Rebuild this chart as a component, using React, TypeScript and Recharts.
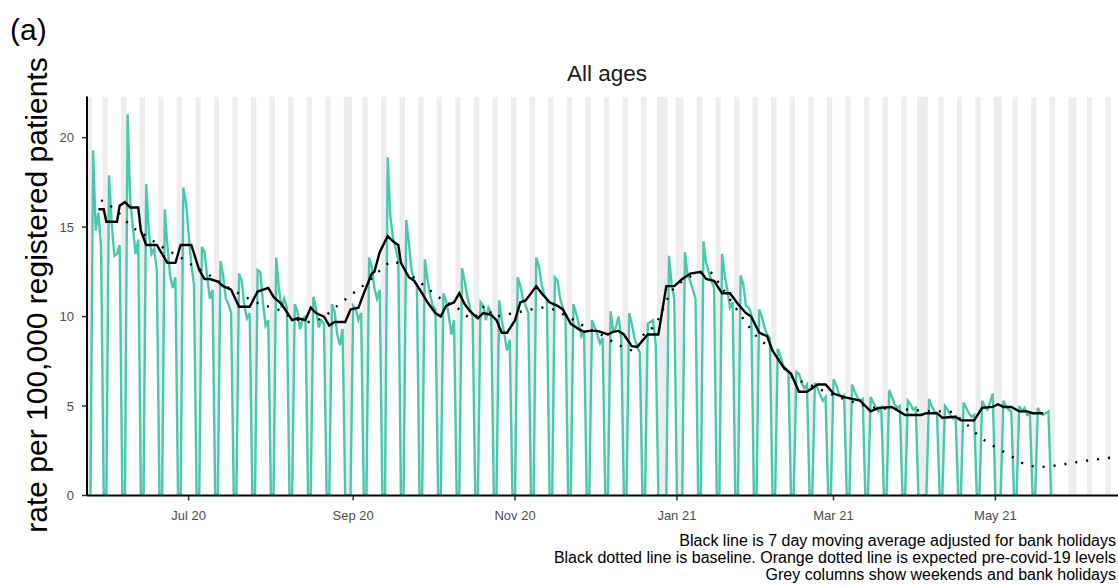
import { ComposedChart, Line, XAxis, YAxis, ReferenceArea } from "recharts"

// day 0 of the x axis
const originDate = "2020-07-01"
const seriesStart = "2020-05-25"

// daily rate per 100,000, one row per week (Mon..Sun), weekends and bank holidays at 0
const dailyRate = [
  [0, 19.3, 14.8, 15.8, 13.9, 0, 0],
  [17.9, 15.2, 13.4, 13.5, 14.0, 0, 0],
  [21.3, 16.5, 15.0, 13.5, 14.3, 0, 0],
  [17.4, 14.7, 13.5, 13.8, 12.6, 0, 0],
  [16.0, 14.0, 12.3, 11.6, 12.2, 0, 0],
  [17.2, 16.4, 14.6, 12.9, 11.8, 0, 0],
  [13.9, 13.6, 12.2, 11.0, 11.5, 0, 0],
  [13.1, 12.3, 11.0, 10.7, 10.2, 0, 0],
  [12.4, 12.0, 10.6, 9.9, 10.2, 0, 0],
  [12.6, 12.5, 10.8, 9.5, 9.8, 0, 0],
  [13.3, 11.6, 10.5, 11.0, 10.5, 0, 0],
  [10.7, 10.3, 9.3, 9.9, 10.0, 0, 0],
  [11.1, 10.5, 9.4, 9.8, 9.6, 0, 0],
  [10.7, 10.3, 9.0, 8.4, 9.3, 0, 0],
  [0, 10.6, 10.4, 9.8, 10.2, 0, 0],
  [13.3, 12.8, 11.6, 11.0, 11.5, 0, 0],
  [18.9, 15.6, 14.4, 13.8, 13.2, 0, 0],
  [15.4, 14.1, 12.6, 12.0, 11.8, 0, 0],
  [13.2, 12.1, 11.2, 10.6, 10.4, 0, 0],
  [11.3, 10.9, 10.1, 9.0, 9.8, 0, 0],
  [12.7, 12.0, 11.1, 10.5, 10.0, 0, 0],
  [10.8, 10.6, 9.8, 10.5, 10.2, 0, 0],
  [10.9, 9.8, 9.0, 8.1, 8.7, 0, 0],
  [12.2, 11.7, 11.0, 10.6, 10.2, 0, 0],
  [13.3, 12.8, 11.8, 11.2, 11.0, 0, 0],
  [12.2, 12.0, 11.0, 10.5, 10.0, 0, 0],
  [10.7, 10.2, 9.6, 8.9, 9.2, 0, 0],
  [9.8, 9.4, 9.0, 8.5, 8.8, 0, 0],
  [10.3, 9.2, 9.4, 10.0, 8.8, 0, 0],
  [10.2, 9.6, 8.8, 8.3, 8.0, 0, 0],
  [9.6, 9.7, 9.8, 8.5, 0, 0, 0],
  [0, 13.4, 11.8, 11.0, 0, 0, 0],
  [13.6, 12.3, 12.0, 11.5, 11.0, 0, 0],
  [14.2, 13.0, 12.5, 12.0, 11.6, 0, 0],
  [13.5, 12.3, 11.5, 10.5, 10.8, 0, 0],
  [12.3, 11.8, 10.6, 10.5, 10.2, 0, 0],
  [10.4, 10.0, 9.4, 9.0, 8.8, 0, 0],
  [8.2, 7.8, 7.3, 7.0, 6.9, 0, 0],
  [6.9, 6.8, 6.3, 6.0, 6.2, 0, 0],
  [6.3, 6.0, 5.6, 5.3, 5.5, 0, 0],
  [6.5, 6.2, 5.7, 5.5, 5.6, 0, 0],
  [6.2, 5.8, 5.5, 5.3, 5.4, 0, 0],
  [5.5, 5.2, 4.9, 4.7, 4.9, 0, 0],
  [5.9, 5.5, 5.1, 4.9, 5.0, 0, 0],
  [5.3, 5.1, 4.8, 4.9, 0, 0, 0],
  [0, 5.4, 5.0, 4.7, 4.6, 0, 0],
  [5.0, 4.8, 4.5, 4.3, 4.4, 0, 0],
  [5.2, 4.9, 4.6, 4.4, 4.5, 0, 0],
  [5.3, 5.0, 4.8, 5.2, 5.7, 0, 0],
  [0, 5.3, 5.0, 4.8, 4.7, 0, 0],
  [5.0, 4.7, 4.9, 4.5, 4.6, 0, 0],
  [4.9, 4.6, 4.5, 4.6, 4.7, 0],
]

// 7 day moving average: [day from originDate, rate]
const movingAverage = [
  [-34, 16.0], [-32, 16.0], [-31, 15.3], [-27, 15.3], [-26, 16.2], [-24, 16.4], [-22, 16.1],
  [-19, 16.1], [-18, 14.8], [-16, 14.0], [-12, 14.0], [-10, 13.5], [-8, 13.0], [-5, 13.0],
  [-3, 14.0], [1, 14.0], [4, 12.6], [6, 12.1], [8, 12.1], [11, 11.95], [13, 11.7], [16, 11.5],
  [19, 10.55], [23, 10.55], [26, 11.4], [30, 11.6], [32, 11.1], [35, 10.7], [39, 9.8], [41, 9.9],
  [44, 9.8], [46, 10.5], [48, 10.2], [51, 10.0], [53, 9.5], [55, 9.7], [59, 9.7], [61, 10.4],
  [64, 10.5], [66, 11.3], [69, 12.4], [70, 12.5], [72, 13.6], [75, 14.5], [77, 14.2], [79, 14.0],
  [80, 13.0], [83, 12.2], [85, 12.0], [88, 11.3], [90, 10.8], [93, 10.2], [95, 10.0], [97, 10.6],
  [100, 10.8], [102, 11.3], [104, 10.7], [106, 10.3], [109, 9.9], [111, 10.2], [114, 10.1],
  [116, 9.8], [118, 9.1], [120, 9.1], [123, 9.8], [125, 10.8], [127, 10.9], [131, 11.7],
  [133, 11.3], [136, 10.8], [139, 10.6], [141, 10.4], [144, 9.6], [147, 9.3], [149, 9.15],
  [151, 9.2], [154, 9.2], [156, 9.1], [158, 9.0], [160, 9.15], [162, 9.2], [164, 9.0],
  [167, 8.35], [169, 8.3], [173, 9.0], [177, 9.0], [180, 11.7], [183, 11.7], [186, 12.1],
  [189, 12.4], [193, 12.5], [195, 12.1], [198, 12.0], [201, 11.3], [204, 11.3], [207, 10.7],
  [210, 10.2], [212, 10.0], [215, 9.1], [218, 8.9], [220, 8.1], [224, 7.2], [227, 6.8],
  [230, 5.8], [233, 5.8], [237, 6.2], [240, 6.2], [243, 5.7], [247, 5.5], [250, 5.4],
  [253, 5.3], [257, 4.7], [260, 4.9], [265, 4.95], [270, 4.5], [276, 4.5], [278, 4.6],
  [282, 4.6], [284, 4.35], [289, 4.4], [291, 4.2], [296, 4.2], [299, 4.9], [303, 4.95],
  [305, 5.1], [307, 4.95], [310, 4.95], [313, 4.7], [316, 4.7], [318, 4.6], [322, 4.6],
]

// baseline: [day from originDate, rate]
const baseline = [
  [-33, 16.5], [-27, 15.9], [-22, 15.1], [-16, 14.5], [-9, 13.8], [-3, 13.3], [0, 13.0],
  [8, 12.3], [13, 11.8], [20, 11.2], [27, 10.7], [35, 10.3], [38, 10.0], [46, 9.7],
  [50, 9.9], [56, 10.6], [62, 11.3], [68, 12.0], [73, 12.7], [77, 13.1], [83, 12.4],
  [89, 11.7], [95, 11.0], [101, 10.5], [107, 9.9], [112, 10.6], [115, 10.0], [119, 10.1],
  [126, 10.3], [134, 10.5], [144, 9.9], [151, 9.3], [154, 9.1], [161, 8.5], [168, 8.1],
  [172, 9.1], [175, 9.4], [183, 11.6], [196, 12.5], [201, 11.6], [207, 10.3], [214, 8.9],
  [220, 8.1], [226, 6.8], [234, 6.2], [240, 5.8], [251, 5.2], [259, 4.9], [271, 4.8],
  [282, 4.7], [286, 4.7], [293, 4.0], [298, 3.3], [304, 2.7], [310, 2.2], [313, 1.9],
  [321, 1.6], [328, 1.7], [336, 1.9], [344, 2.05], [354, 2.25],
]

const bankHolidays = [
  "2020-05-25", "2020-08-31", "2020-12-25", "2020-12-28", "2021-01-01",
  "2021-04-02", "2021-04-05", "2021-05-03", "2021-05-31",
]

const tickDates = ["2020-07-01", "2020-09-01", "2020-11-01", "2021-01-01", "2021-03-01", "2021-05-01"]
const tickLabels = ["Jul 20", "Sep 20", "Nov 20", "Jan 21", "Mar 21", "May 21"]
const yTicks = [0, 5, 10, 15, 20]

const footnotes = [
  "Black line is 7 day moving average adjusted for bank holidays",
  "Black dotted line is baseline. Orange dotted line is expected pre-covid-19 levels",
  "Grey columns show weekends and bank holidays",
]

const DAY = 86400000
const originMs = Date.parse(originDate + "T00:00:00Z")
const dayOf = (iso: string) => Math.round((Date.parse(iso + "T00:00:00Z") - originMs) / DAY)

const xDomain: [number, number] = [-38.3, 353.6]
const tickDays = tickDates.map(dayOf)

const startDay = dayOf(seriesStart)
const rateRows = dailyRate.flat().map((v, i) => ({ d: startDay + i, v }))
const maRows = movingAverage.map(([d, v]) => ({ d, v }))
const baseRows = baseline.map(([d, v]) => ({ d, v }))

// grey columns: runs of weekend days and bank holidays
const holidayDays = new Set(bankHolidays.map(dayOf))
const offRuns: number[][] = []
for (let d = Math.floor(xDomain[0]) - 1; d <= Math.ceil(xDomain[1]) + 1; d++) {
  const wd = new Date(originMs + d * DAY).getUTCDay()
  if (wd === 0 || wd === 6 || holidayDays.has(d)) {
    const last = offRuns[offRuns.length - 1]
    if (last && last[1] === d - 1) last[1] = d
    else offRuns.push([d, d])
  }
}

const font = "'Liberation Sans', Arial, sans-serif"

export default function App() {
  return (
    <div style={{ position: "relative", width: 1118, height: 585, overflow: "hidden", fontFamily: font, background: "#fff" }}>
      <style>{"body{margin:0}"}</style>
      <div style={{ position: "absolute", left: 0, top: 0 }}>
        <ComposedChart width={1135} height={585} margin={{ top: 96.5, right: 8, bottom: 59.5, left: 0 }}>
          {offRuns.map(([a, b]) => (
            <ReferenceArea
              key={a}
              x1={a - 0.5}
              x2={b + 0.5}
              fill="#ededed"
              fillOpacity={1}
              stroke="none"
              ifOverflow="hidden"
            />
          ))}
          <XAxis
            type="number"
            dataKey="d"
            domain={xDomain}
            allowDataOverflow
            ticks={tickDays}
            tickFormatter={(v) => tickLabels[tickDays.indexOf(v)] ?? ""}
            tick={{ fontSize: 13, fill: "#4d4d4d", fontFamily: font }}
            tickSize={5}
            tickMargin={10}
            tickLine={{ stroke: "#333", strokeWidth: 1.5 }}
            axisLine={{ stroke: "#000", strokeWidth: 2 }}
            height={30}
          />
          <YAxis
            type="number"
            domain={[0, 22.3]}
            allowDataOverflow
            ticks={yTicks}
            tick={{ fontSize: 13, fill: "#4d4d4d", fontFamily: font }}
            tickSize={5}
            tickMargin={8}
            tickLine={{ stroke: "#333", strokeWidth: 1.5 }}
            axisLine={{ stroke: "#000", strokeWidth: 2 }}
            width={87}
          />
          <Line
            data={rateRows}
            dataKey="v"
            type="linear"
            stroke="#48c9ae"
            strokeWidth={2.4}
            dot={false}
            isAnimationActive={false}
          />
          <Line
            data={baseRows}
            dataKey="v"
            type="monotone"
            stroke="#000"
            strokeWidth={2.4}
            strokeDasharray="2 9"
            dot={false}
            isAnimationActive={false}
          />
          <Line
            data={maRows}
            dataKey="v"
            type="linear"
            stroke="#000"
            strokeWidth={2.4}
            dot={false}
            isAnimationActive={false}
          />
        </ComposedChart>
      </div>
      <svg width={1118} height={585} style={{ position: "absolute", left: 0, top: 0, pointerEvents: "none" }}>
        <text x={10} y={40} fontSize={30} fill="#000" fontFamily={font}>(a)</text>
        <text x={607} y={81} fontSize={22.5} fill="#1a1a1a" textAnchor="middle" fontFamily={font}>All ages</text>
        <text
          x={47}
          y={295}
          fontSize={30}
          fill="#000"
          textAnchor="middle"
          fontFamily={font}
          transform="rotate(-90 47 295)"
        >
          rate per 100,000 registered patients
        </text>
        {footnotes.map((t, i) => (
          <text key={t} x={1116} y={546 + i * 17} fontSize={16} fill="#000" textAnchor="end" fontFamily={font}>
            {t}
          </text>
        ))}
      </svg>
    </div>
  )
}
